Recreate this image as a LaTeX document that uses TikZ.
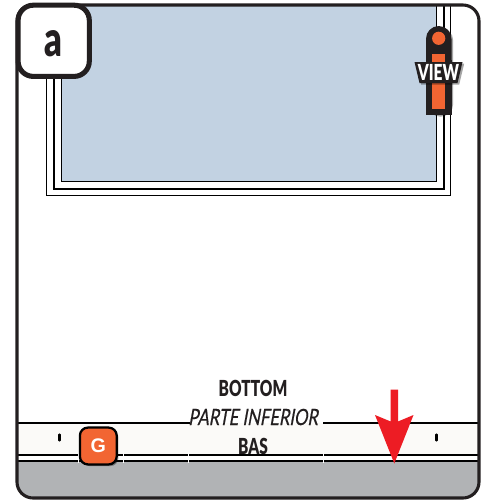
\documentclass[tikz,border=0pt]{standalone}
\usepackage{fontspec}
\setmainfont{Liberation Sans}
\newfontfamily\condfont[FakeStretch=0.7]{Lato Black}
\newfontfamily\condslant[FakeStretch=0.74,FakeSlant=0.18,FakeBold=0.5]{Lato}
\usetikzlibrary{arrows.meta,positioning,calc,shadows}
\definecolor{mInk}{HTML}{231F20}
\definecolor{paneBlue}{HTML}{C2D2E2}
\definecolor{stripBg}{HTML}{FBFAF8}
\definecolor{sillGray}{HTML}{B1B3B5}
\definecolor{tagOrange}{HTML}{F26532}
\definecolor{pushRed}{HTML}{ED1C24}
\tikzset{
  softshadow/.style={drop shadow={shadow xshift=1.2pt,shadow yshift=-1.2pt,opacity=.35,fill=black}},
  trim/.style={draw=black,line width=#1},
  caption/.style={text=mInk,inner sep=0pt,font=\condfont\fontsize{15.7}{16}\selectfont},
  slot/.style={draw=black,line width=1.5pt,line cap=round},
  seam/.style={draw=white,line width=0.5pt}
}
\begin{document}
\begin{tikzpicture}[x=0.025cm,y=-0.025cm]
  \useasboundingbox (0,0) rectangle (489,502);
  % door body
  \fill[white,rounded corners=0.4cm] (17,5) rectangle (479,498);
  \fill[paneBlue] (61,5) rectangle (436.5,182);
  \draw[trim=1.3pt] (61.5,5) -- (61.5,181.5) -- (436.5,181.5) -- (436.5,5);
  \draw[trim=1.3pt] (54,5) -- (54,189) -- (444,189) -- (444,5);
  \draw[trim=1pt] (46.5,5) -- (46.5,195.5) -- (450.5,195.5) -- (450.5,5);
  % bottom strip
  \fill[sillGray,rounded corners=0.4cm] (17,440) -- (17,498) -- (479,498) -- (479,440) -- cycle;
  \fill[stripBg] (17,423) rectangle (479,455);
  \fill[white] (17,455) rectangle (479,461);
  \draw[trim=1.4pt] (17,423) -- (190,423) (323,423) -- (479,423);
  \draw[trim=1.4pt] (17,455) -- (479,455);
  \draw[trim=1.4pt] (17,461) -- (479,461);
  \foreach \x in {78,123,188,323}{
    \draw[seam] (\x,452) -- (\x,463);
  }
  \foreach \x in {59.5,436.5}{
    \draw[slot] (\x,434.5) -- (\x,440.5);
  }
  \draw[draw=mInk,line width=2.2pt,rounded corners=0.4cm] (17,5) rectangle (479,498);
  % badge
  \node[draw=mInk,fill=white,line width=3.6pt,rounded corners=0.38cm,minimum size=1.78cm,inner sep=0pt] (badge) at (53.7,40.8) {};
  \node[caption,font=\condfont\fontsize{35}{35}\selectfont] (badgeletter) at (53,44) {a};
  % viewing marker
  \path[fill=mInk,softshadow,rounded corners=0.32cm] (426,115) -- (426,26) -- (451.5,26) -- (451.5,115) -- cycle;
  \fill[mInk] (426,115) rectangle (451.5,60);
  \node[circle,fill=tagOrange,minimum size=0.33cm,inner sep=0pt] (lens) at (438.7,38.3) {};
  \fill[tagOrange] (432.3,53.5) rectangle (445,108.5);
  \path[fill=mInk,softshadow] (414.5,62) -- (462.5,62) -- (457.5,83) -- (419.5,83) -- cycle;
  \node[caption,text=white] (viewtag) at (438.5,72.5) {VIEW};
  % labels
  \node[caption] (bottom) at (253,388) {BOTTOM};
  \node[caption,font=\condslant\fontsize{16}{17}\selectfont] (parte) at (253,417) {PARTE INFERIOR};
  \node[caption] (bas) at (253,446) {BAS};
  % grip
  \node[draw=black,fill=tagOrange,line width=1.6pt,rounded corners=0.2cm,minimum size=0.92cm,inner sep=0pt,
    softshadow,text=white,font=\bfseries\fontsize{14}{14}\selectfont] (grip) at (98.3,446) {G};
  % push arrow
  \fill[pushRed] (390.7,389.5) -- (398,389.5) -- (398,421.5) -- (413.5,415) -- (394.3,463.5) -- (375,415) -- (390.7,421.5) -- cycle;
\end{tikzpicture}
\end{document}
